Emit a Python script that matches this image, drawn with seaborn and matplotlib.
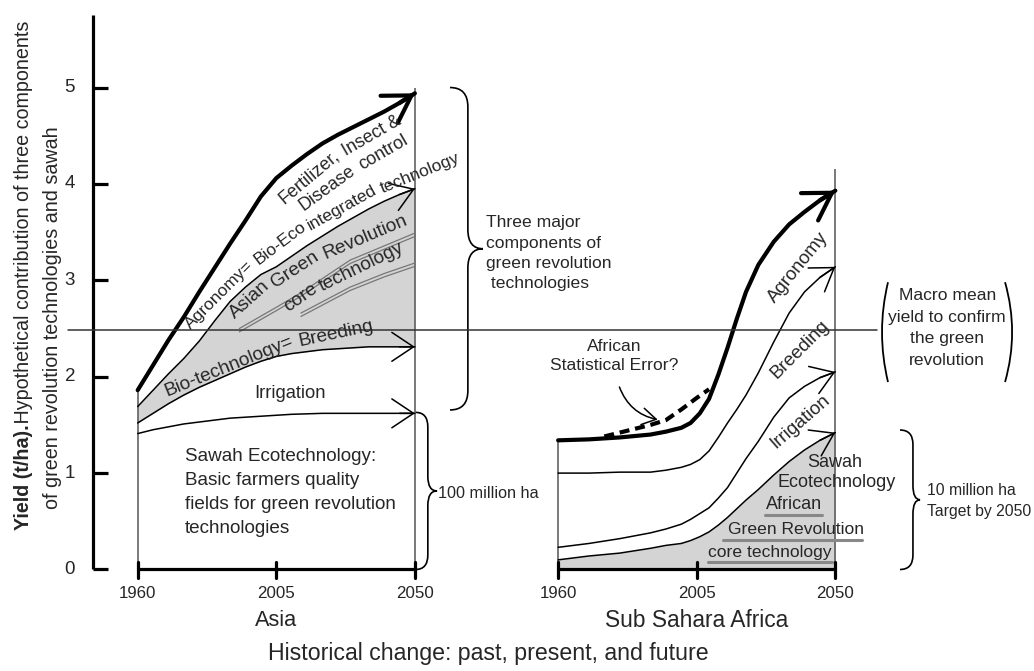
import numpy as np
import pandas as pd
import seaborn as sns
import matplotlib.pyplot as plt
from matplotlib.path import Path
from matplotlib.patches import PathPatch

# Asia: upper edge of each layer, yield in t/ha
asia_years = [1960, 1965, 1970, 1975, 1980, 1985, 1990, 1995, 2000, 2005, 2010,
              2015, 2020, 2025, 2030, 2035, 2040, 2045, 2050]
asia_total = [1.86, 2.12, 2.38, 2.62, 2.88, 3.13, 3.38, 3.62, 3.87, 4.06, 4.19,
              4.31, 4.42, 4.51, 4.59, 4.67, 4.75, 4.84, 4.94]
asia_breeding_top = [1.69, 1.86, 2.03, 2.19, 2.37, 2.58, 2.78, 2.93, 3.06, 3.14, 3.25,
                     3.36, 3.46, 3.56, 3.65, 3.74, 3.82, 3.89, 3.95]
asia_irrigation_top = [1.52, 1.62, 1.72, 1.81, 1.89, 1.96, 2.03, 2.10, 2.16, 2.21, 2.24,
                       2.26, 2.28, 2.29, 2.30, 2.31, 2.31, 2.31, 2.31]
asia_sawah_top = [1.41, 1.45, 1.48, 1.51, 1.53, 1.55, 1.57, 1.58, 1.59, 1.60, 1.61,
                  1.615, 1.62, 1.62, 1.62, 1.62, 1.62, 1.62, 1.62]

# Sub Sahara Africa
africa_years = [1960, 1970, 1980, 1990, 1995, 2000, 2003, 2006, 2009, 2012, 2015,
                2018, 2021, 2025, 2030, 2035, 2040, 2045, 2050]
africa_total = [1.34, 1.35, 1.37, 1.40, 1.43, 1.47, 1.52, 1.62, 1.77, 2.02, 2.30,
                2.60, 2.88, 3.16, 3.40, 3.58, 3.71, 3.83, 3.93]
africa_breeding_top = [1.00, 1.00, 1.01, 1.01, 1.03, 1.06, 1.09, 1.14, 1.23, 1.37, 1.52,
                       1.66, 1.81, 2.04, 2.36, 2.66, 2.88, 3.03, 3.14]
africa_irrigation_top = [0.23, 0.27, 0.32, 0.38, 0.42, 0.47, 0.52, 0.58, 0.64, 0.74, 0.85,
                         1.00, 1.15, 1.33, 1.58, 1.78, 1.90, 1.99, 2.05]
africa_sawah_top = [0.10, 0.14, 0.17, 0.22, 0.25, 0.27, 0.30, 0.34, 0.39, 0.46, 0.54,
                    0.63, 0.72, 0.83, 0.98, 1.12, 1.24, 1.34, 1.42]
# "African statistical error?" dashed branch
africa_err_years = [1975, 1980, 1985, 1990, 1995, 2000, 2005, 2009]
africa_err = [1.38, 1.42, 1.46, 1.50, 1.55, 1.66, 1.78, 1.87]

# grey double underlines below "Asian Green Revolution / core technology"
ul_a_years = [1993, 2005, 2013, 2029, 2050]
ul_a = [2.50, 2.72, 2.87, 3.21, 3.49]
ul_b_years = [2013, 2029, 2040, 2050]
ul_b = [2.66, 2.93, 3.07, 3.18]

macro_mean = 2.48
year_ticks = [1960, 2005, 2050]
yield_ticks = [0, 1, 2, 3, 4, 5]
AFR = 136.5  # offset of the Africa panel on the shared x scale

sns.set_theme(style='white')
plt.rcParams['font.family'] = ['Liberation Sans', 'DejaVu Sans']

fig = plt.figure(figsize=(10.34, 6.71), dpi=100)
ax = fig.add_axes([0, 0, 1, 1])
GREY = '#d4d4d4'


def afr(years):
    return [y + AFR for y in years]


def curve(x, y, lw=1.0, **kw):
    sns.lineplot(x=x, y=y, ax=ax, color='black', linewidth=lw,
                 estimator=None, sort=False, legend=False, **kw)


def arrow_end(x, y, lw=1.0, thick=False):
    if thick:
        style = '->,head_length=0.95,head_width=0.58'
    else:
        style = '->,head_length=0.78,head_width=0.52'
    ax.annotate('', xy=(x[-1], y[-1]), xytext=(x[-2], y[-2]),
                arrowprops=dict(arrowstyle=style, lw=lw, color='black',
                                shrinkA=0, shrinkB=0, mutation_scale=20))


def brace(x0, y_top, y_bot, depth, tip, r):
    xm, xt, ym = x0 + depth, x0 + tip, (y_top + y_bot) / 2
    verts = [(x0, y_top), (xm, y_top), (xm, y_top - r), (xm, ym + r), (xm, ym), (xt, ym),
             (xm, ym), (xm, ym - r), (xm, y_bot + r), (xm, y_bot), (x0, y_bot)]
    codes = [Path.MOVETO, Path.CURVE3, Path.CURVE3, Path.LINETO, Path.CURVE3, Path.CURVE3,
             Path.CURVE3, Path.CURVE3, Path.LINETO, Path.CURVE3, Path.CURVE3]
    ax.add_patch(PathPatch(Path(verts, codes), fill=False, lw=1.2, color='black'))


def paren(x, y_top, y_bot, ctrl_x):
    verts = [(x, y_top), (ctrl_x, (y_top + y_bot) / 2), (x, y_bot)]
    codes = [Path.MOVETO, Path.CURVE3, Path.CURVE3]
    ax.add_patch(PathPatch(Path(verts, codes), fill=False, lw=1.3, color='black'))


def bent_text(words, size):
    # words laid along a curve: (text, x, y, rotation)
    for w, x, y, rot in words:
        ax.text(x, y, w, rotation=rot, fontsize=size, ha='center', va='center',
                rotation_mode='anchor')


# ---- Asia panel ----
ax.fill_between(asia_years, asia_irrigation_top, asia_breeding_top, color=GREY, lw=0, zorder=0)
ax.vlines(asia_years[0], 0, asia_total[0], color='#555555', lw=1.1)
ax.vlines(asia_years[-1], 0, 5.0, color='#555555', lw=1.1)
for yy, lw, thick in [(asia_total, 3.0, True), (asia_breeding_top, 1.1, False),
                      (asia_irrigation_top, 1.1, False), (asia_sawah_top, 1.1, False)]:
    curve(asia_years, yy, lw)
    arrow_end(asia_years, yy, lw, thick)
for xs, ys in [(ul_a_years, ul_a), (ul_b_years, ul_b)]:
    for off in (0.0, -0.035):
        ax.plot(xs, [v + off for v in ys], color='#777777', lw=0.9)

# ---- Africa panel ----
ax.fill_between(afr(africa_years), 0, africa_sawah_top, color=GREY, lw=0, zorder=0)
ax.vlines(afr([1960])[0], 0, africa_total[0], color='#555555', lw=1.1)
ax.vlines(afr([2050])[0], 0, 4.15, color='#555555', lw=1.1)
for yy, lw, thick in [(africa_total, 3.0, True), (africa_breeding_top, 1.1, False),
                      (africa_irrigation_top, 1.1, False), (africa_sawah_top, 1.1, False)]:
    curve(afr(africa_years), yy, lw)
    arrow_end(afr(africa_years), yy, lw, thick)
curve(afr(africa_err_years), africa_err, 3.0, linestyle=(0, (2.4, 1.4)))

# ---- axes drawn by hand ----
AX_LW = 2.3
ax.plot([1945.4, 1945.4], [0, 5.75], color='black', lw=AX_LW, solid_capstyle='butt')
for t in yield_ticks:
    ax.plot([1945.4, 1950.3], [t, t], color='black', lw=AX_LW, solid_capstyle='butt')
    ax.text(1938.0, t, str(t), ha='center', va='center', fontsize=13.5)
for shift in (0, AFR):
    ax.plot([year_ticks[0] + shift, year_ticks[-1] + shift], [0, 0], color='black', lw=AX_LW)
    for yr in year_ticks:
        ax.plot([yr + shift, yr + shift], [-0.09, 0.08], color='black', lw=AX_LW)
        ax.text(yr + shift, -0.25, str(yr), ha='center', va='center', fontsize=12.2)
ax.text(2005, -0.53, 'Asia', ha='center', va='center', fontsize=15.7)
ax.text(2005 + AFR, -0.53, 'Sub Sahara Africa', ha='center', va='center', fontsize=16.4)
ax.text(2073.7, -0.87, 'Historical change: past, present, and future',
        ha='center', va='center', fontsize=16.7)

# macro mean line
ax.plot([1937.4, 2200.0], [macro_mean, macro_mean], color='#333333', lw=1.1)

# ---- y label (bold start) ----
YL_FS = 14.2
t1 = ax.text(1922.8, 0.41, 'Yield (t/ha).', rotation=90, fontsize=YL_FS,
             fontweight='bold', ha='center', va='bottom')
fig.canvas.draw()
top = ax.transData.inverted().transform((0, t1.get_window_extent().y1))[1]
ax.text(1922.8, top + 0.03, ' Hypothetical contribution of three components', rotation=90,
        fontsize=YL_FS, ha='center', va='bottom')
ax.text(1932.2, 2.61, 'of green revolution technologies and sawah', rotation=90,
        fontsize=YL_FS, ha='center', va='center')

# ---- Asia labels (curved ones are set word by word) ----
kw = dict(ha='center', va='center', rotation_mode='anchor')
bent_text([('Fertilizer,', 2015.6, 4.07, 40), ('Insect &', 2035.9, 4.50, 30)], 13)
bent_text([('Disease', 2021.6, 3.96, 36), ('control', 2039.8, 4.33, 30)], 13)
bent_text([('Agronomy=', 1986.6, 2.85, 45), ('Bio-Eco', 2006.4, 3.39, 37),
           ('integrated', 2026.2, 3.75, 29), ('technology', 2051.6, 4.115, 22)], 12.5)
bent_text([('Asian', 1996.4, 2.80, 42), ('Green', 2011.1, 3.11, 33),
           ('Revolution', 2033.8, 3.45, 23)], 13.8)
bent_text([('core', 2013.0, 2.815, 35), ('technology', 2032.8, 3.14, 26)], 13.8)
bent_text([('Bio-technology=', 1989.6, 2.105, 22), ('Breeding', 2024.2, 2.445, 12)], 13.8)
ax.text(2009.5, 1.83, 'Irrigation', fontsize=13.2, **kw)
ax.text(1975.3, 0.80, 'Sawah Ecotechnology:\nBasic farmers quality\nfields for green revolution\ntechnologies',
        ha='left', va='center', fontsize=13.6, linespacing=1.55)
brace(2061.4, 5.0, 1.655, 5.8, 10.7, 0.2)
ax.text(2073.2, 3.28, 'Three major\ncomponents of\ngreen revolution\n technologies',
        ha='left', va='center', fontsize=12.6, linespacing=1.45)
brace(2050.2, 1.63, 0.0, 4.0, 7.0, 0.15)
ax.text(2057.5, 0.79, '100 million ha', ha='left', va='center', fontsize=11.7)

# ---- Africa labels ----
ax.text(2038.0 + AFR, 3.13, 'Agronomy', rotation=51, fontsize=13.5, **kw)
ax.text(2038.6 + AFR, 2.28, 'Breeding', rotation=45, fontsize=13.5, **kw)
ax.text(2038.6 + AFR, 1.53, 'Irrigation', rotation=41, fontsize=13.5, **kw)
ax.text(2049.7 + AFR, 1.115, 'Sawah', fontsize=13, **kw)
ax.text(2050.3 + AFR, 0.90, 'Ecotechnology', fontsize=13, **kw)
ax.text(2036.6 + AFR, 0.67, 'African', fontsize=13, **kw)
ax.text(2037.3 + AFR, 0.41, 'Green Revolution', fontsize=12.6, **kw)
ax.text(2028.8 + AFR, 0.18, 'core technology', fontsize=12.6, **kw)
for x0, x1, yv in [(2027.2, 2045.7, 0.565), (2013.6, 2058.7, 0.306), (2008.7, 2049.0, 0.078)]:
    ax.plot([x0 + AFR, x1 + AFR], [yv, yv], color='#888888', lw=2.2)
ax.text(1978.2 + AFR, 2.215, 'African\nStatistical Error?', ha='center', va='center',
        fontsize=12.6, linespacing=1.35)
ax.annotate('', xy=(1993.2 + AFR, 1.55), xytext=(1979.6 + AFR, 1.92),
            arrowprops=dict(arrowstyle='->,head_length=0.5,head_width=0.3', lw=1.1,
                            color='black', connectionstyle='arc3,rad=0.3', mutation_scale=20))
paren(2203.6, 2.98, 1.945, 2199.7)
paren(2241.6, 2.98, 1.945, 2246.2)
ax.text(2222.8, 2.505, 'Macro mean\nyield to confirm\nthe green\nrevolution',
        ha='center', va='center', fontsize=12.6, linespacing=1.55)
brace(2207.5, 1.447, 0.0, 4.2, 6.5, 0.15)
ax.text(2216.2, 0.71, '10 million ha\nTarget by 2050', ha='left', va='center',
        fontsize=11.3, linespacing=1.55)

ax.set_xlim(1915.3, 2251.0)
ax.set_ylim(-1.053, 5.908)
ax.axis('off')
fig.savefig('out.png', dpi=100)
